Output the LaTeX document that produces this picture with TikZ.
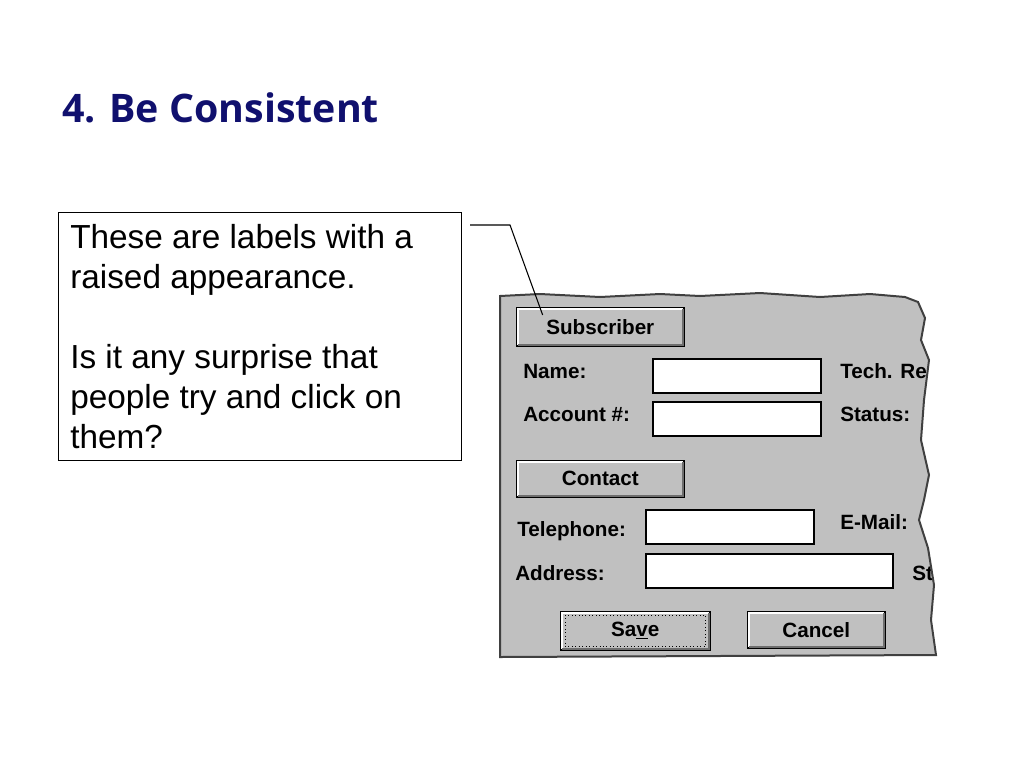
\documentclass[tikz,border=0pt]{standalone}
\usepackage{fontspec}
\setmainfont{Liberation Sans}
\newfontfamily\titlefont{Open Sans}
\usetikzlibrary{positioning}
\definecolor{titleblue}{RGB}{16,16,110}
\definecolor{formgray}{RGB}{192,192,192}
\definecolor{shadegray}{RGB}{110,110,110}
\tikzset{
  lbl/.style={anchor=base west,inner sep=0pt,font=\fontsize{15.5}{15.5}\selectfont\bfseries},
  field/.style={draw=black,fill=white,line width=1.2pt,anchor=north west,inner sep=0pt},
  btn/.style={draw=black,fill=formgray,line width=1.2pt,anchor=north west,inner sep=0pt,font=\fontsize{15.5}{15.5}\selectfont\bfseries},
}
\begin{document}
\begin{tikzpicture}[x=0.75pt,y=-0.75pt]
\useasboundingbox (0,0) rectangle (1024,768);

\node [anchor=base west,inner sep=0pt,text=titleblue,font=\titlefont\fontsize{29.5}{29.5}\selectfont\bfseries] (title) at (62,122) {4. Be Consistent};

\node [draw=black,line width=0.8pt,anchor=north west,minimum width=302.25pt,minimum height=186pt,inner sep=0pt] (note) at (58,212) {};
\node [anchor=north west,align=left,inner sep=0pt,font=\fontsize{25}{30}\selectfont] (note-text) at (70,224) {These are labels with a\\raised appearance.\\[30pt]Is it any surprise that\\people try and click on\\them?};

% form panel with torn right edge
\def\panelpath{(500,296) -- (540,294) -- (600,297) -- (660,294) -- (700,296) -- (760,293) -- (820,297) -- (870,294) -- (905,297) -- (918,302) -- (925,318) -- (921,340) -- (929,360) -- (924,400) -- (921,440) -- (929,475) -- (924,500) -- (919,520) -- (928,548) -- (934,585) -- (931,620) -- (936,655) -- (500,657) -- cycle}
\fill [formgray] \panelpath;
\begin{scope}
\clip \panelpath;

\node [btn,minimum width=125.25pt,minimum height=28.5pt] (btn-sub) at (516,307) {Subscriber};
\node [btn,minimum width=125.25pt,minimum height=27pt] (btn-con) at (516,460) {Contact};
\node [btn,line width=2pt,minimum width=111pt,minimum height=27.75pt] (btn-save) at (560,611) {Sa\underline{v}e};
\node [btn,minimum width=102.75pt,minimum height=27pt] (btn-cancel) at (747,611) {Cancel};
\draw [dotted,line width=0.6pt] ([shift={(4pt,-3pt)}]btn-save.north west) rectangle ([shift={(-4pt,3pt)}]btn-save.south east);
\foreach \b in {btn-sub,btn-con,btn-save,btn-cancel}{
  \draw [white,line width=1.5pt] ([shift={(1.5pt,1.5pt)}]\b.south west) -- ([shift={(1.5pt,-1.5pt)}]\b.north west) -- ([shift={(-1.5pt,-1.5pt)}]\b.north east);
  \draw [shadegray,line width=1.5pt] ([shift={(1.5pt,1.5pt)}]\b.south west) -- ([shift={(-1.5pt,1.5pt)}]\b.south east) -- ([shift={(-1.5pt,-1.5pt)}]\b.north east);
}

\node [field,minimum width=126pt,minimum height=25.5pt] (f-name) at (652,358) {};
\node [field,minimum width=126pt,minimum height=25.5pt] (f-acct) at (652,401) {};
\node [field,minimum width=126pt,minimum height=25.5pt] (f-tel) at (645,509) {};
\node [field,minimum width=185.25pt,minimum height=25.5pt] (f-addr) at (645,553) {};

\node [lbl] (l-name) at (523,378) {Name:};
\node [lbl] (l-acct) at (523,421) {Account \#:};
\node [lbl] (l-tel) at (517,536) {Telephone:};
\node [lbl] (l-addr) at (515,580) {Address:};
\node [lbl] (l-tech) at (840,378) {Tech. Rep:};
\node [lbl] (l-status) at (840,421) {Status:};
\node [lbl] (l-mail) at (840,529) {E-Mail:};
\node [lbl] (l-st) at (912,580) {State:};
\end{scope}
\draw [black!75,line width=1.5pt] \panelpath;

\coordinate (lead) at (470,225);
\draw [line width=0.8pt] (lead) -- ++(40,0) -- ([shift={(20pt,-6pt)}]btn-sub.north west);
\end{tikzpicture}
\end{document}
